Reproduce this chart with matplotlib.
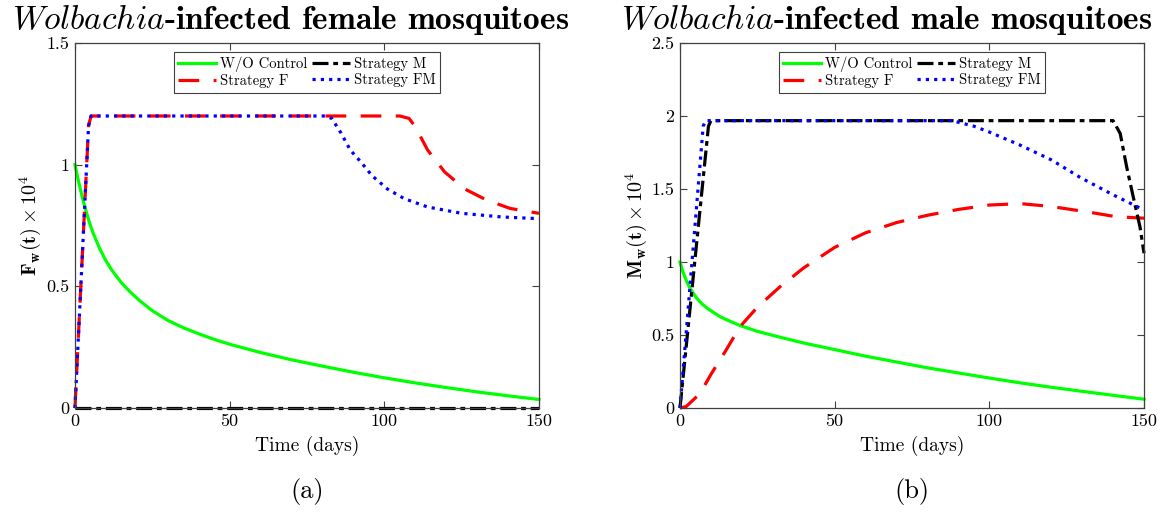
import numpy as np
import matplotlib.pyplot as plt

plt.rcParams['font.family'] = 'serif'
plt.rcParams['font.serif'] = ['cmr10']
plt.rcParams['mathtext.fontset'] = 'cm'
plt.rcParams['axes.formatter.use_mathtext'] = True

# ---- panel (a): Wolbachia-infected females F_w(t) x 1e4 ----
t_a_wo = [0, 1, 2, 3, 4, 5, 6, 8, 10, 12, 15, 18, 21, 25, 30, 35, 40, 45, 50, 60, 70, 80, 90,
          100, 110, 120, 130, 140, 150]
f_wo = [1.0, 0.94, 0.885, 0.835, 0.79, 0.75, 0.715, 0.655, 0.605, 0.565, 0.515, 0.475, 0.44,
        0.40, 0.36, 0.33, 0.305, 0.282, 0.262, 0.228, 0.198, 0.172, 0.147, 0.124, 0.103, 0.084,
        0.066, 0.05, 0.035]
t_a_m = [0, 150]
f_m = [0, 0]
t_a_f = [0, 4.4, 5.2, 105, 108, 110, 114, 119.5, 126, 133, 140.7, 150]
f_f = [0, 1.16, 1.2, 1.2, 1.19, 1.156, 1.06, 0.97, 0.90, 0.855, 0.82, 0.80]
t_a_fm = [0, 4.4, 5.2, 81, 83, 86, 89, 92.5, 96, 101, 106.5, 114, 125, 138, 150]
f_fm = [0, 1.16, 1.2, 1.2, 1.19, 1.13, 1.06, 1.01, 0.955, 0.90, 0.86, 0.826, 0.80, 0.785, 0.778]

# ---- panel (b): Wolbachia-infected males M_w(t) x 1e4 ----
t_b_wo = [0, 1, 2, 3, 4.3, 5.5, 7, 9, 10.8, 13, 15, 19.4, 25, 32.3, 40, 50, 60, 70, 80, 90,
          100, 110, 120, 130, 140, 150]
m_wo = [1.0, 0.93, 0.875, 0.83, 0.785, 0.75, 0.715, 0.68, 0.655, 0.625, 0.605, 0.565, 0.525,
        0.485, 0.445, 0.40, 0.355, 0.315, 0.275, 0.24, 0.205, 0.172, 0.142, 0.114, 0.087, 0.06]
t_b_m = [0, 9.2, 10, 140, 142.3, 144.4, 146.5, 148.7, 150]
m_m = [0, 1.93, 1.968, 1.968, 1.88, 1.65, 1.447, 1.24, 1.06]
t_b_f = [0, 2, 4, 6.5, 10, 15, 19.4, 25, 32.3, 40, 50, 60, 70, 80, 90, 100, 110, 120, 132.6, 141, 150]
m_f = [0, 0.01, 0.05, 0.10, 0.23, 0.40, 0.557, 0.69, 0.83, 0.96, 1.10, 1.20, 1.27, 1.32, 1.36,
       1.39, 1.40, 1.38, 1.34, 1.31, 1.30]
t_b_fm = [0, 7.5, 8.3, 88, 95, 100, 110, 120, 129.3, 140, 150]
m_fm = [0, 1.93, 1.968, 1.968, 1.93, 1.89, 1.80, 1.70, 1.58, 1.46, 1.356]

labels = ['W/O Control', 'Strategy F', 'Strategy M', 'Strategy FM']

fig = plt.figure(figsize=(11.73, 5.13), dpi=100)
ax1 = fig.add_axes([0.0639, 0.2047, 0.3956, 0.7115])
ax2 = fig.add_axes([0.5797, 0.2047, 0.3956, 0.7115])

def draw(ax, wo, f, m, fm):
    h_wo, = ax.plot(*wo, color='#00ff00', lw=2.3, linestyle='-', clip_on=False)
    h_f, = ax.plot(*f, color='red', lw=2.3, linestyle=(0, (6.5, 4.5)), clip_on=False)
    h_m, = ax.plot(*m, color='black', lw=2.3, linestyle=(0, (5, 1.5, 1.5, 1.5)), clip_on=False)
    h_fm, = ax.plot(*fm, color='blue', lw=2.3, linestyle=(0, (1, 1.6)), clip_on=False)
    return [h_wo, h_f, h_m, h_fm]

hs1 = draw(ax1, (t_a_wo, f_wo), (t_a_f, f_f), (t_a_m, f_m), (t_a_fm, f_fm))
hs2 = draw(ax2, (t_b_wo, m_wo), (t_b_f, m_f), (t_b_m, m_m), (t_b_fm, m_fm))

ax1.set_ylim(0, 1.5)
ax1.set_yticks([0, 0.5, 1, 1.5])
ax1.set_yticklabels(['0', '0.5', '1', '1.5'])
ax2.set_ylim(0, 2.5)
ax2.set_yticks([0, 0.5, 1, 1.5, 2, 2.5])
ax2.set_yticklabels(['0', '0.5', '1', '1.5', '2', '2.5'])

for ax, hs in [(ax1, hs1), (ax2, hs2)]:
    ax.set_xlim(0, 150)
    ax.set_xticks([0, 50, 100, 150])
    ax.set_xticklabels(['0', '50', '100', '150'])
    ax.tick_params(direction='in', top=True, right=True, labelsize=13, length=5,
                   color='#404040', pad=4)
    for s in ax.spines.values():
        s.set_color('#404040')
        s.set_linewidth(0.9)
    ax.set_xlabel('Time (days)', fontsize=14, labelpad=5)
    leg = ax.legend(hs, labels, ncol=2, loc='upper center', bbox_to_anchor=(0.5, 0.975),
                    fontsize=10.5, handlelength=2.6, columnspacing=0.3, handletextpad=0.3,
                    labelspacing=0.15, borderpad=0.3, fancybox=False, framealpha=1,
                    edgecolor='#404040', borderaxespad=0)
    leg.get_frame().set_linewidth(0.8)

ax1.set_ylabel(r'$\mathbf{F_w(t)\times 10^4}$', fontsize=14.5, labelpad=2)
ax2.set_ylabel(r'$\mathbf{M_w(t)\times 10^4}$', fontsize=14.5, labelpad=2)

ax1.set_title(r'$\mathit{Wolbachia}$-infected female mosquitoes', fontfamily='cmb10',
              fontsize=24, pad=10, x=0.465)
ax2.set_title(r'$\mathit{Wolbachia}$-infected male mosquitoes', fontfamily='cmb10',
              fontsize=24, pad=10, x=0.445)

fig.text(0.2617, 0.03, '(a)', fontsize=19, ha='center')
fig.text(0.7775, 0.03, '(b)', fontsize=19, ha='center')

fig.savefig('out.png', dpi=100)
